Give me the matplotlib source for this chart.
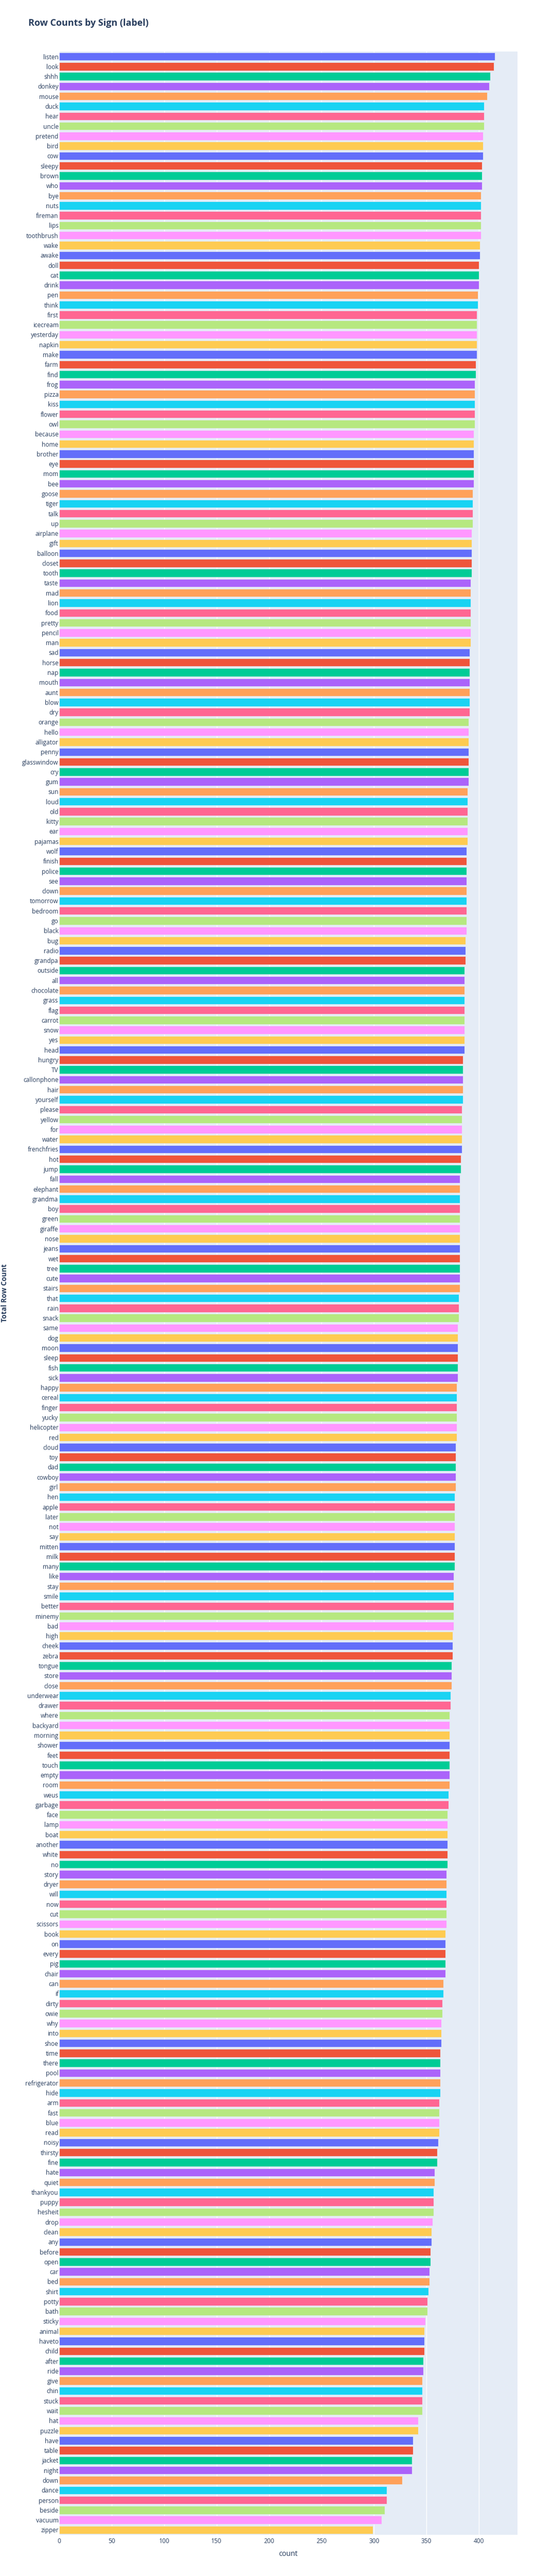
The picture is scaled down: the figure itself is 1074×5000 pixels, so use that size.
import matplotlib
matplotlib.use("Agg")
import matplotlib.pyplot as plt

# signs, top to bottom as shown
labels = [
    "listen", "look", "shhh", "donkey", "mouse", "duck", "hear", "uncle", "pretend", "bird",
    "cow", "sleepy", "brown", "who", "bye", "nuts", "fireman", "lips", "toothbrush", "wake",
    "awake", "doll", "cat", "drink", "pen", "think", "first", "icecream", "yesterday", "napkin",
    "make", "farm", "find", "frog", "pizza", "kiss", "flower", "owl", "because", "home",
    "brother", "eye", "mom", "bee", "goose", "tiger", "talk", "up", "airplane", "gift",
    "balloon", "closet", "tooth", "taste", "mad", "lion", "food", "pretty", "pencil", "man",
    "sad", "horse", "nap", "mouth", "aunt", "blow", "dry", "orange", "hello", "alligator",
    "penny", "glasswindow", "cry", "gum", "sun", "loud", "old", "kitty", "ear", "pajamas",
    "wolf", "finish", "police", "see", "clown", "tomorrow", "bedroom", "go", "black", "bug",
    "radio", "grandpa", "outside", "all", "chocolate", "grass", "flag", "carrot", "snow", "yes",
    "head", "hungry", "TV", "callonphone", "hair", "yourself", "please", "yellow", "for", "water",
    "frenchfries", "hot", "jump", "fall", "elephant", "grandma", "boy", "green", "giraffe", "nose",
    "jeans", "wet", "tree", "cute", "stairs", "that", "rain", "snack", "same", "dog",
    "moon", "sleep", "fish", "sick", "happy", "cereal", "finger", "yucky", "helicopter", "red",
    "cloud", "toy", "dad", "cowboy", "girl", "hen", "apple", "later", "not", "say",
    "mitten", "milk", "many", "like", "stay", "smile", "better", "minemy", "bad", "high",
    "cheek", "zebra", "tongue", "store", "close", "underwear", "drawer", "where", "backyard", "morning",
    "shower", "feet", "touch", "empty", "room", "weus", "garbage", "face", "lamp", "boat",
    "another", "white", "no", "story", "dryer", "will", "now", "cut", "scissors", "book",
    "on", "every", "pig", "chair", "can", "if", "dirty", "owie", "why", "into",
    "shoe", "time", "there", "pool", "refrigerator", "hide", "arm", "fast", "blue", "read",
    "noisy", "thirsty", "fine", "hate", "quiet", "thankyou", "puppy", "hesheit", "drop", "clean",
    "any", "before", "open", "car", "bed", "shirt", "potty", "bath", "sticky", "animal",
    "haveto", "child", "after", "ride", "give", "chin", "stuck", "wait", "hat", "puzzle",
    "have", "table", "jacket", "night", "down", "dance", "person", "beside", "vacuum", "zipper",
]

counts = [
    415, 414, 411, 410, 408, 405, 405, 405, 404, 404,
    404, 403, 403, 403, 402, 402, 402, 402, 402, 401,
    401, 400, 400, 400, 399, 399, 398, 398, 398, 398,
    398, 397, 397, 396, 396, 396, 396, 396, 395, 395,
    395, 395, 395, 395, 394, 394, 394, 394, 393, 393,
    393, 393, 393, 392, 392, 392, 392, 392, 392, 392,
    391, 391, 391, 391, 391, 391, 391, 390, 390, 390,
    390, 390, 390, 390, 389, 389, 389, 389, 389, 389,
    388, 388, 388, 388, 388, 388, 388, 388, 388, 387,
    387, 387, 386, 386, 386, 386, 386, 386, 386, 386,
    386, 385, 385, 385, 385, 385, 384, 384, 384, 384,
    384, 383, 383, 382, 382, 382, 382, 382, 382, 382,
    382, 382, 382, 382, 382, 381, 381, 381, 380, 380,
    380, 380, 380, 380, 379, 379, 379, 379, 379, 379,
    378, 378, 378, 378, 378, 377, 377, 377, 377, 377,
    377, 377, 377, 376, 376, 376, 376, 376, 376, 375,
    375, 375, 374, 374, 374, 373, 373, 372, 372, 372,
    372, 372, 372, 372, 372, 371, 371, 370, 370, 370,
    370, 370, 370, 369, 369, 369, 369, 369, 369, 368,
    368, 368, 368, 368, 366, 366, 365, 365, 364, 364,
    364, 363, 363, 363, 363, 363, 362, 362, 362, 362,
    361, 360, 360, 358, 358, 357, 357, 357, 356, 355,
    355, 354, 354, 353, 353, 352, 351, 351, 349, 348,
    348, 348, 347, 347, 346, 346, 346, 346, 342, 342,
    337, 337, 336, 336, 327, 312, 312, 310, 307, 299,
]

palette = ["#636EFA", "#EF553B", "#00CC96", "#AB63FA", "#FFA15A",
           "#19D3F3", "#FF6692", "#B6E880", "#FF97FF", "#FECB52"]
colors = [palette[i % len(palette)] for i in range(len(labels))]

plt.rcParams['font.family'] = ['Open Sans', 'DejaVu Sans']
text_color = "#2a3f5f"

fig = plt.figure(figsize=(10.74, 50), dpi=100)
ax = fig.add_axes([115 / 1074, 80 / 5000, 890 / 1074, 4820 / 5000])
ax.set_facecolor("#E5ECF6")

ys = list(range(len(labels)))
ax.barh(ys, counts, height=0.8, color=colors, edgecolor="#E5ECF6", linewidth=0.5, zorder=3)

ax.set_ylim(len(labels) - 0.5, -0.5)
ax.set_xlim(0, max(counts) * 1.0525)
ax.set_yticks(ys)
ax.set_yticklabels(labels, fontsize=8.6, color=text_color)
ax.set_xticks(range(0, 401, 50))
ax.tick_params(axis='x', labelsize=8.6, labelcolor=text_color, length=0, pad=4)
ax.tick_params(axis='y', length=0, pad=1)
ax.grid(axis='x', color="white", linewidth=1, zorder=0)
ax.set_axisbelow(True)
for s in ax.spines.values():
    s.set_visible(False)

ax.set_xlabel("count", fontsize=10, color=text_color, labelpad=8)
fig.text(9 / 1074, 1 - 2510 / 5000, "Total Row Count", rotation=90, fontsize=10,
         fontweight='bold', color=text_color, ha='center', va='center')
fig.text(55 / 1074, 1 - 45 / 5000, "Row Counts by Sign (label)", fontsize=13,
         fontweight='bold', color=text_color, ha='left', va='center')

fig.savefig("out.png", dpi=100)
